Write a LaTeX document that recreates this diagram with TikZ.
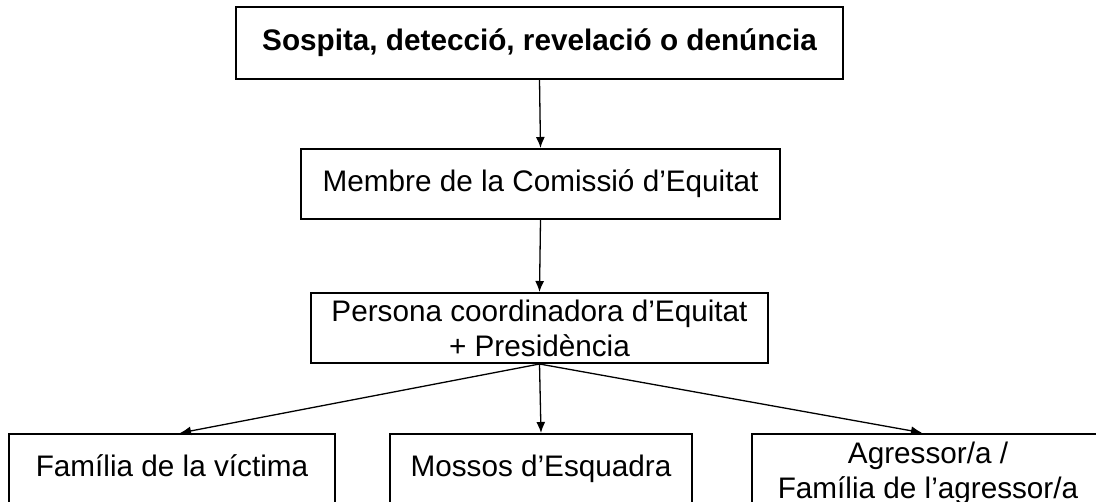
\documentclass[tikz,border=0pt]{standalone}
\usepackage{fontspec}
\setmainfont{Liberation Sans}
\usepackage{tikz}
\usetikzlibrary{positioning, calc, arrows.meta}
\tikzstyle{Arrow} = [
    line width = 0.65pt,
    -{Latex[length=5.5pt, width=4.5pt]}
]

\begin{document}
\begin{tikzpicture}[
x = 0.5pt, y = -0.5pt,
box/.style={
    draw,
    line width = 1pt,
    inner sep = 0pt,
    align = center,
    minimum height = 35pt,
    font = \fontsize{14.85}{17.5}\selectfont
    },
oneline/.style={
    text height = 10.7pt,
    text depth = 3.1pt
    }
]
\useasboundingbox (0,0) rectangle (1096,502);
\clip (0,0) rectangle (1096,502);

\node [box, oneline, minimum width = 303.5pt, minimum height = 36pt, font = \fontsize{14.85}{17.5}\selectfont\bfseries] (1) at (539.5,43) {Sospita, detecció, revelació o denúncia};
\node [box, oneline, minimum width = 239.5pt] (2) at (540.5,184) {Membre de la Comissió d’Equitat};
\node [box, minimum width = 228.5pt] (3) at (539.5,328) {Persona coordinadora d’Equitat\\+ Presidència};

\node [box, oneline, minimum width = 163pt] (4) at (172,469) {Família de la víctima};
\node [box, oneline, minimum width = 151pt] (5) at (541,469) {Mossos d’Esquadra};
\node [box, minimum width = 176pt] (6) at (928,469) {\rule{0pt}{14.7pt}Agressor/a /\\Família de l’agressor/a};

\draw[Arrow] (1.south) -- (2.north);
\draw[Arrow] (2.south) -- (3.north);

\draw[Arrow] (3.south) -- ($(4.north)+(8,0)$);
\draw[Arrow] (3.south) -- (5.north);
\draw[Arrow] (3.south) -- ($(6.north)+(-6,0)$);

\end{tikzpicture}
\end{document}
